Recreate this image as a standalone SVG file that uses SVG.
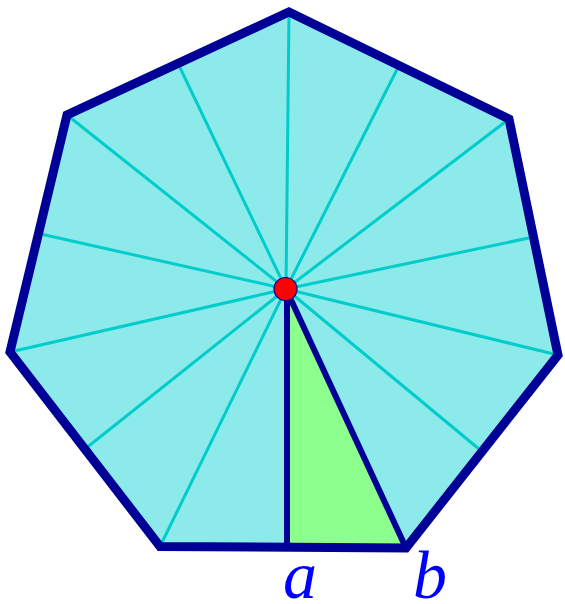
<svg xmlns="http://www.w3.org/2000/svg" width="565" height="604" viewBox="0 0 565 604">
  <style>
    .spoke { stroke: #00cccc; stroke-width: 3; fill: none; }
    .edge { stroke: #000096; stroke-width: 6; fill: none; stroke-linecap: butt; }
    .label { font-family: "Liberation Serif", "DejaVu Serif", serif; font-style: italic; font-size: 68px; fill: #0000ff; text-anchor: middle; }
  </style>
  <rect width="565" height="604" fill="#ffffff"/>
  <g id="heptagon-fill">
    <polygon points="289,12 509,119 558,355 406,548 160,546.5 10,352 67,115" fill="#8ceaea" stroke="none"/>
  </g>
  <g id="triangle">
    <polygon points="286,289 287,547 406,548" fill="#8cff8c" stroke="none"/>
  </g>
  <g id="connectors">
    <line class="spoke" x1="286" y1="289" x2="289" y2="12"/>
    <line class="spoke" x1="286" y1="289" x2="509" y2="119"/>
    <line class="spoke" x1="286" y1="289" x2="558" y2="355"/>
    <line class="spoke" x1="286" y1="289" x2="160" y2="546.5"/>
    <line class="spoke" x1="286" y1="289" x2="10" y2="352"/>
    <line class="spoke" x1="286" y1="289" x2="67" y2="115"/>
    <line class="spoke" x1="286" y1="289" x2="399" y2="65.5"/>
    <line class="spoke" x1="286" y1="289" x2="533.5" y2="237"/>
    <line class="spoke" x1="286" y1="289" x2="482" y2="451.5"/>
    <line class="spoke" x1="286" y1="289" x2="85" y2="449"/>
    <line class="spoke" x1="286" y1="289" x2="38.5" y2="233.5"/>
    <line class="spoke" x1="286" y1="289" x2="178" y2="63.5"/>
    <line class="edge" x1="287" y1="289" x2="287" y2="547"/>
    <line class="edge" x1="286" y1="289" x2="406" y2="548"/>
  </g>
  <g id="heptagon-outline">
    <polygon points="289,12 509,119 558,355 406,548 160,546.5 10,352 67,115" fill="none" stroke="#000096" stroke-width="9" stroke-linejoin="miter" stroke-miterlimit="10"/>
  </g>
  <g id="center">
    <circle cx="285.5" cy="289" r="11.5" fill="#ff0000" stroke="#000096" stroke-width="1.2"/>
  </g>
  <g id="label-a">
    <text class="label" x="300" y="598">a</text>
  </g>
  <g id="label-b">
    <text class="label" x="430" y="598">b</text>
  </g>
</svg>
